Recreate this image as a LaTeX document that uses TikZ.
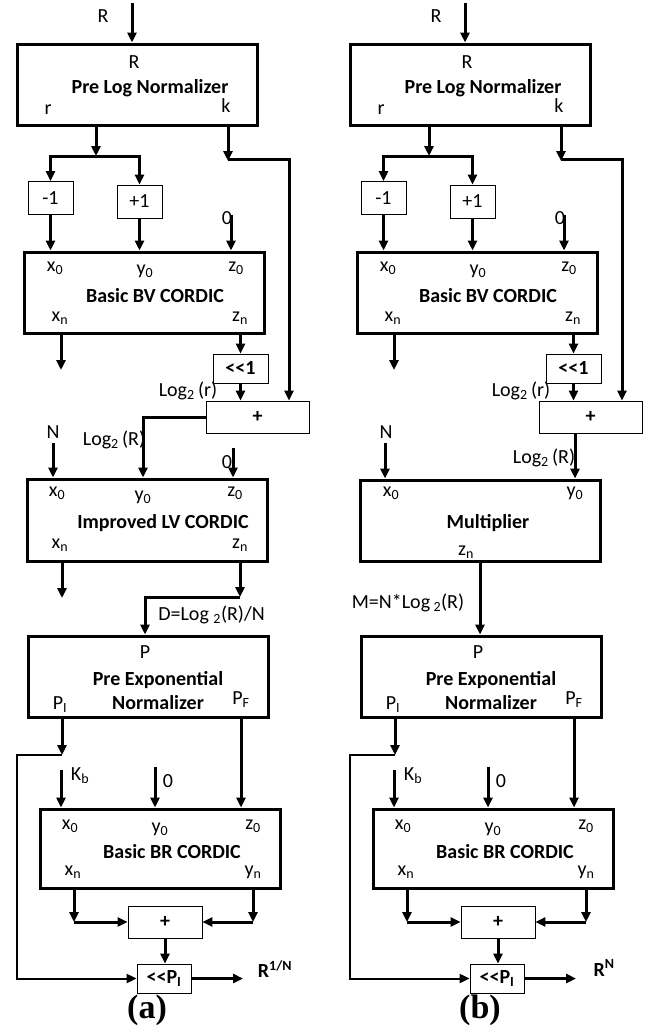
\documentclass[tikz,border=0pt]{standalone}
\usepackage{fontspec}
\setmainfont{Carlito}
\newfontfamily\capfont{Liberation Serif}
\usetikzlibrary{arrows.meta}

\begin{document}
\begin{tikzpicture}[x=1pt, y=-1pt, >={Triangle[length=10pt,width=9pt]},
  every node/.style={font=\fontsize{20}{22}\selectfont, inner sep=0pt}]
\tikzstyle{bigbox}=[draw, line width=3pt, minimum width=240pt, minimum height=81pt]
\tikzstyle{smallbox}=[draw, line width=0.8pt, font=\fontsize{20}{22}\selectfont\bfseries]
\tikzstyle{heading}=[font=\fontsize{20}{24}\selectfont\bfseries, align=center]
\tikzstyle{arr}=[->, line width=3pt]
\tikzstyle{backwire}=[->, line width=2pt]
\useasboundingbox (0,0) rectangle (652,1036);

\foreach \p/\dx in {a/0,b/333}{
\begin{scope}[xshift=\dx pt]
% pre log normalizer
\coordinate (\p-in) at (132,3);
\node (\p-inR) at (103,16) {R};
\node[bigbox] (\p-prelog) at (137,84.5) {};
\node (\p-R) at (134,62) {R};
\node[heading] (\p-prelogtxt) at (150,88) {Pre Log Normalizer};
\node (\p-r) at (48,110) {r};
\node (\p-k) at (226,106) {k};
\draw[arr] (\p-in) -- (\p-in |- \p-prelog.north);

\node[smallbox, font=\fontsize{20}{22}\selectfont, minimum width=45pt, minimum height=33pt] (\p-dec) at (50.5,198) {-1};
\node[smallbox, font=\fontsize{20}{22}\selectfont, minimum width=45pt, minimum height=33pt] (\p-inc) at (139.5,201.5) {+1};
\coordinate (\p-split) at (96,156);
\draw[arr] (\p-split |- \p-prelog.south) -- (\p-split);
\draw[arr] (\p-split) -| (\p-dec.north);
\draw[arr] (\p-split) -| (\p-inc.north);

% basic BV CORDIC
\node[bigbox] (\p-bv) at (144,292.5) {};
\node (\p-bx0) at (55,268) {x\textsubscript{0}};
\node (\p-by0) at (145,271) {y\textsubscript{0}};
\node (\p-bz0) at (236,268) {z\textsubscript{0}};
\node[heading] (\p-bvtxt) at (155,296) {Basic BV CORDIC};
\node (\p-bxn) at (60,318) {x\textsubscript{n}};
\node (\p-bzn) at (240,318) {z\textsubscript{n}};
\node (\p-zero1) at (227,218) {0};
\coordinate (\p-zin) at (231,215);
\draw[arr] (\p-dec.south) -- (\p-dec.south |- \p-bv.north);
\draw[arr] (\p-inc.south) -- (\p-inc.south |- \p-bv.north);
\draw[arr] (\p-zin) -- (\p-zin |- \p-bv.north);
\coordinate (\p-xnout) at (61,370);
\draw[arr] (\p-xnout |- \p-bv.south) -- (\p-xnout);

\node[smallbox, minimum width=55pt, minimum height=29pt] (\p-shl) at (240.5,368.5) {<{}<1};
\node[smallbox, minimum width=103pt, minimum height=32pt] (\p-add) at (257.5,417) {+};
\node (\p-logr) at (188,391) {Log\textsubscript{2}\,(r)};
\draw[arr] (\p-shl.north |- \p-bv.south) -- (\p-shl.north);
\draw[arr] (\p-shl.south) -- (\p-shl.south |- \p-add.north);
\coordinate (\p-kc) at (228,161);
\coordinate (\p-kr) at (289,159);
\draw[arr] (\p-kc |- \p-prelog.south) -- (\p-kc);
\draw[arr] (\p-kc |- \p-kr) -- (\p-kr) -- (\p-kr |- \p-add.north);

% pre exponential normalizer
\node[bigbox] (\p-preexp) at (148,676.5) {};
\node (\p-P) at (145,652) {P};
\node[heading] (\p-preexptxt) at (158,691) {Pre Exponential\\Normalizer};
\node (\p-pi) at (60,705) {P\textsubscript{I}};
\node (\p-pf) at (241,700) {P\textsubscript{F}};

% basic BR CORDIC
\node[bigbox, minimum height=79pt] (\p-br) at (160,848.5) {};
\node (\p-rx0) at (70,826) {x\textsubscript{0}};
\node (\p-ry0) at (160,829) {y\textsubscript{0}};
\node (\p-rz0) at (253,826) {z\textsubscript{0}};
\node[heading] (\p-brtxt) at (172,852) {Basic BR CORDIC};
\node (\p-rxn) at (73,872) {x\textsubscript{n}};
\node (\p-ryn) at (253,872) {y\textsubscript{n}};
\coordinate (\p-kb) at (61,770);
\node (\p-kbtxt) at (80,776) {K\textsubscript{b}};
\coordinate (\p-zin2) at (155,767);
\node (\p-zero2) at (168,781) {0};
\draw[arr] (\p-kb) -- (\p-kb |- \p-br.north);
\draw[arr] (\p-zin2) -- (\p-zin2 |- \p-br.north);
\draw[arr] (\p-pf |- \p-preexp.south) -- (\p-pf |- \p-br.north);

\node[smallbox, minimum width=74pt, minimum height=32pt] (\p-add2) at (165,922) {+};
\node[smallbox, minimum width=54pt, minimum height=29pt] (\p-shift) at (164,978.5) {<{}<P\textsubscript{I}};
\coordinate (\p-xnj) at (74,922);
\coordinate (\p-ynj) at (253,922);
\draw[arr] (\p-xnj |- \p-br.south) -- (\p-xnj);
\draw[arr] (\p-xnj) -- (\p-add2.west);
\draw[arr] (\p-ynj |- \p-br.south) -- (\p-ynj);
\draw[arr] (\p-ynj) -- (\p-add2.east);
\draw[arr] (\p-add2.south) -- (\p-add2.south |- \p-shift.north);
\coordinate (\p-out) at (243,979);
\draw[arr] (\p-shift.east) -- (\p-shift.east -| \p-out);

\coordinate (\p-pij) at (62,755);
\coordinate (\p-loop) at (17,755);
\draw[arr] (\p-pij |- \p-preexp.south) -- (\p-pij);
\draw[backwire] (\p-pij) -- (\p-loop) |- (\p-shift.west);
\node[font=\capfont\bfseries\fontsize{34}{36}\selectfont] (\p-cap) at (147,1010) {(\p)};
\end{scope}
}

% (a) improved LV CORDIC
\node[bigbox, minimum height=82pt] (a-lv) at (147.5,520) {};
\node (a-lx0) at (57,493) {x\textsubscript{0}};
\node (a-ly0) at (143,497) {y\textsubscript{0}};
\node (a-lz0) at (235,493) {z\textsubscript{0}};
\node[heading] (a-lvtxt) at (163,523) {Improved LV CORDIC};
\node (a-lxn) at (60,545) {x\textsubscript{n}};
\node (a-lzn) at (240,545) {z\textsubscript{n}};
\node (a-logR) at (114,440) {Log\textsubscript{2}\,(R)};
\node (a-N) at (53,432) {N};
\node (a-zero) at (227,462) {0};
\coordinate (a-nin) at (53,443);
\coordinate (a-zin3) at (233,448);
\draw[arr] (a-add.west) -| (a-ly0 |- a-lv.north);
\draw[arr] (a-nin) -- (a-nin |- a-lv.north);
\draw[arr] (a-zin3) -- (a-zin3 |- a-lv.north);
\coordinate (a-xnout2) at (62,598);
\draw[arr] (a-xnout2 |- a-lv.south) -- (a-xnout2);
\coordinate (a-znj) at (240,597);
\draw[arr] (a-znj |- a-lv.south) -- (a-znj);
\draw[arr] (a-znj) -| (a-P |- a-preexp.north);
\node (a-D) at (211.5,615) {D=Log \textsubscript{2}(R)/N};
\node[font=\fontsize{20}{22}\selectfont\bfseries] (a-res) at (275,969) {R\textsuperscript{1/N}};

% (b) multiplier
\begin{scope}[xshift=333pt]
\node[bigbox] (b-mult) at (147,520.5) {};
\node (b-mx0) at (58,493) {x\textsubscript{0}};
\node (b-my0) at (242,493) {y\textsubscript{0}};
\node[heading] (b-multtxt) at (155,523) {Multiplier};
\node (b-mzn) at (133,552) {z\textsubscript{n}};
\node (b-logR) at (211,458) {Log\textsubscript{2}\,(R)};
\node (b-N) at (53,432) {N};
\coordinate (b-nin) at (52,443);
\draw[arr] (b-nin) -- (b-nin |- b-mult.north);
\draw[arr] (b-my0 |- b-add.south) -- (b-my0 |- b-mult.north);
\draw[arr] (b-mult.south) -- (b-mult.south |- b-preexp.north);
\node (b-M) at (75,603) {M=N*Log\,\textsubscript{2}(R)};
\node[font=\fontsize{20}{22}\selectfont\bfseries] (b-res) at (271,968) {R\textsuperscript{N}};
\end{scope}
\end{tikzpicture}
\end{document}
